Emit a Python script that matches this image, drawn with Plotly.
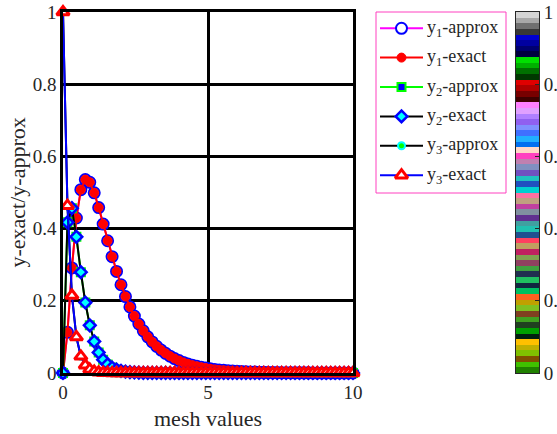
import plotly.graph_objects as go

W, H = 557, 434

# ---------------- data ----------------
mesh = [0.0, 0.1538, 0.3077, 0.4615, 0.6154, 0.7692, 0.9231, 1.0769, 1.2308, 1.3846,
        1.5385, 1.6923, 1.8462, 2.0, 2.1538, 2.3077, 2.4615, 2.6154, 2.7692, 2.9231,
        3.0769, 3.2308, 3.3846, 3.5385, 3.6923, 3.8462, 4.0, 4.1538, 4.3077, 4.4615,
        4.6154, 4.7692, 4.9231, 5.0769, 5.2308, 5.3846, 5.5385, 5.6923, 5.8462, 6.0,
        6.1538, 6.3077, 6.4615, 6.6154, 6.7692, 6.9231, 7.0769, 7.2308, 7.3846, 7.5385,
        7.6923, 7.8462, 8.0, 8.1538, 8.3077, 8.4615, 8.6154, 8.7692, 8.9231, 9.0769,
        9.2308, 9.3846, 9.5385, 9.6923, 9.8462, 10.0]

y1_exact = [0, 0.1128, 0.2911, 0.4293, 0.5078, 0.5358, 0.5283, 0.4991, 0.4582, 0.4125,
            0.3663, 0.3222, 0.2814, 0.2445, 0.2118, 0.1829, 0.1576, 0.1357, 0.1167, 0.1002,
            0.0861, 0.0739, 0.0634, 0.0544, 0.0467, 0.0400, 0.0343, 0.0294, 0.0252, 0.0216,
            0.0186, 0.0159, 0.0136, 0.0117, 0.0100, 0.0086, 0.0074, 0.0063, 0.0054, 0.0046,
            0.0040, 0.0034, 0.0029, 0.0025, 0.0022, 0.0018, 0.0016, 0.0014, 0.0012, 0.0010,
            0.0009, 0.0007, 0.0006, 0.0005, 0.0005, 0.0004, 0.0003, 0.0003, 0.0002, 0.0002,
            0.0002, 0.0002, 0.0001, 0.0001, 0.0001, 0.0001]
y2_exact = [0, 0.4174, 0.4565, 0.3773, 0.2794, 0.1953, 0.1320, 0.0874, 0.0570, 0.0368,
            0.0236, 0.0151, 0.0096, 0.0061, 0.0039, 0.0024, 0.0016, 0.0010, 0.0006, 0.0004,
            0.0002, 0.0002, 0.0001, 0.0001, 0, 0, 0, 0, 0, 0,
            0, 0, 0, 0, 0, 0, 0, 0, 0, 0,
            0, 0, 0, 0, 0, 0, 0, 0, 0, 0,
            0, 0, 0, 0, 0, 0, 0, 0, 0, 0,
            0, 0, 0, 0, 0, 0]
y3_exact = [1, 0.4634, 0.2147, 0.0995, 0.0461, 0.0214, 0.0099, 0.0046, 0.0021, 0.0010,
            0.0005, 0.0002, 0.0001, 0, 0, 0, 0, 0, 0, 0,
            0, 0, 0, 0, 0, 0, 0, 0, 0, 0,
            0, 0, 0, 0, 0, 0, 0, 0, 0, 0,
            0, 0, 0, 0, 0, 0, 0, 0, 0, 0,
            0, 0, 0, 0, 0, 0, 0, 0, 0, 0,
            0, 0, 0, 0, 0, 0]
# approximations coincide with the exact values at this scale
y1_approx = list(y1_exact)
y2_approx = list(y2_exact)
y3_approx = list(y3_exact)

series_names = ["y<sub>1</sub>-approx", "y<sub>1</sub>-exact", "y<sub>2</sub>-approx",
                "y<sub>2</sub>-exact", "y<sub>3</sub>-approx", "y<sub>3</sub>-exact"]
series_values = [y1_approx, y1_exact, y2_approx, y2_exact, y3_approx, y3_exact]

x_ticks = [0, 5, 10]
y_ticks = [0, 0.2, 0.4, 0.6, 0.8, 1]
y_ticktext = ["0", "0.2", "0.4", "0.6", "0.8", "1"]

# colormap shown in the colour bar, from value 1 (top) down to 0 (bottom)
cmap_top_to_bottom = [
    "#d4d4d4", "#a8a8a8", "#707070", "#383838",
    "#0000d0", "#0000a0", "#000070", "#000040",
    "#00e000", "#00b000", "#007000", "#003800",
    "#e00000", "#b00000", "#780000", "#400000",
    "#ff80ff", "#e0a0ff", "#b080ff", "#9060f0",
    "#8090ff", "#4070ff", "#20b0ff", "#0070f0",
    "#ffd8c8", "#ff40c0", "#c080b0", "#8090c0",
    "#7050c0", "#20c0c0", "#2050c0", "#00d0d0",
    "#ff70a0", "#c0a080", "#c040a0", "#8090a0",
    "#603090", "#40a0a0", "#20c0b0", "#205090",
    "#ff4060", "#c0a060", "#c02060", "#80a050",
    "#904060", "#40a040", "#203050", "#20c060",
    "#102840", "#00c060", "#ff6020", "#c0a000",
    "#80c020", "#804020", "#40a020", "#204020",
    "#00a000", "#002010", "#ffc000", "#c0b000",
    "#80c000", "#805000", "#40c000", "#208000",
]

# ---------------- styles ----------------
styles = [
    dict(line=dict(color="#ff00ff", width=2),
         marker=dict(symbol="circle", size=11, color="white", line=dict(color="#0000ff", width=2))),
    dict(line=dict(color="#ff0000", width=2),
         marker=dict(symbol="circle", size=9, color="#ff0000", line=dict(color="#ff0000", width=1))),
    dict(line=dict(color="#00ff00", width=2),
         marker=dict(symbol="square", size=8, color="#0000ff", line=dict(color="#00ff00", width=2))),
    dict(line=dict(color="#000000", width=2),
         marker=dict(symbol="diamond", size=9, color="#00ffff", line=dict(color="#0000ff", width=2.5))),
    dict(line=dict(color="#000000", width=2),
         marker=dict(symbol="circle", size=7, color="#00ff00", line=dict(color="#00ffff", width=2))),
    dict(line=dict(color="#0000ff", width=2),
         marker=dict(symbol="triangle-up", size=11, color="white", line=dict(color="#ff0000", width=3))),
]

FONT = "Liberation Serif, serif"
TXT = "#262626"

# pixel geometry
PX_L, PX_R, PX_T, PX_B = 63, 353, 12, 373

def px(x):
    return x / W

def py(y):
    return 1 - y / H

fig = go.Figure()

for name, vals, st in zip(series_names, series_values, styles):
    fig.add_trace(go.Scatter(x=mesh, y=vals, mode="lines+markers", name=name,
                             line=st["line"], marker=st["marker"], cliponaxis=False,
                             showlegend=False, xaxis="x", yaxis="y"))

# ---------- manual legend (axis x2/y2 in pixel units) ----------
LEG_L, LEG_R, LEG_T, LEG_B = 376, 506, 12, 193
row_y = [28.3, 57.6, 87.0, 116.4, 145.8, 175.2]
for name, st, cy in zip(series_names, styles, row_y):
    fig.add_trace(go.Scatter(x=[380, 423], y=[cy, cy], mode="lines", line=st["line"],
                             showlegend=False, xaxis="x2", yaxis="y2", hoverinfo="skip"))
    mk = dict(st["marker"])
    fig.add_trace(go.Scatter(x=[401.5], y=[cy], mode="markers", marker=mk,
                             showlegend=False, xaxis="x2", yaxis="y2", hoverinfo="skip",
                             cliponaxis=False))
    fig.add_annotation(x=425, y=cy, xref="x2", yref="y2", text=name, showarrow=False,
                       xanchor="left", yanchor="middle",
                       font=dict(family=FONT, size=18, color=TXT))

fig.add_shape(type="rect", xref="paper", yref="paper",
              x0=px(LEG_L), x1=px(LEG_R), y0=py(LEG_B), y1=py(LEG_T),
              line=dict(color="#ff40c0", width=1), fillcolor="rgba(0,0,0,0)")

# ---------- colour bar ----------
n_c = len(cmap_top_to_bottom)
cmap = cmap_top_to_bottom[::-1]
cscale = []
for k, c in enumerate(cmap):
    cscale.append([k / n_c, c])
    cscale.append([(k + 1) / n_c, c])
cb_y = [(k + 0.5) / n_c for k in range(n_c)]
cb_z = [[(k + 0.5) / n_c] for k in range(n_c)]
fig.add_trace(go.Heatmap(x=[0.5], y=cb_y, z=cb_z, colorscale=cscale, zmin=0, zmax=1,
                         showscale=False, xaxis="x3", yaxis="y3", hoverinfo="skip"))

# ---------- layout ----------
axis_common = dict(showgrid=True, gridcolor="black", gridwidth=2.5, zeroline=False,
                   showline=True, linecolor="black", linewidth=2.5, mirror=True,
                   ticks="", automargin=False,
                   tickfont=dict(family=FONT, size=19, color=TXT))

fig.update_layout(
    width=W, height=H, margin=dict(l=0, r=0, t=0, b=0, autoexpand=False),
    paper_bgcolor="white", plot_bgcolor="white", showlegend=False,
    font=dict(family=FONT, color=TXT),
    xaxis=dict(domain=[px(PX_L), px(PX_R)], range=[0, 10], tickvals=x_ticks,
               ticktext=[str(v) for v in x_ticks], anchor="y", **axis_common),
    yaxis=dict(domain=[py(PX_B), py(PX_T)], range=[0, 1], tickvals=y_ticks,
               ticktext=y_ticktext, anchor="x", **axis_common),
    xaxis2=dict(domain=[px(LEG_L), px(LEG_R)], range=[LEG_L, LEG_R], visible=False,
                anchor="y2", fixedrange=True, automargin=False),
    yaxis2=dict(domain=[py(LEG_B), py(LEG_T)], range=[LEG_B, LEG_T], visible=False,
                anchor="x2", fixedrange=True, automargin=False),
    xaxis3=dict(domain=[px(516), px(539)], range=[0, 1], showgrid=False, zeroline=False,
                showticklabels=False, ticks="", showline=True, linecolor=TXT, linewidth=1,
                mirror=True, anchor="y3", automargin=False),
    yaxis3=dict(domain=[py(PX_B), py(PX_T)], range=[0, 1], side="right", anchor="x3",
                showgrid=False, zeroline=False, showline=True, linecolor=TXT, linewidth=1,
                mirror=True, ticks="inside", ticklen=4, tickcolor=TXT, automargin=False,
                tickvals=y_ticks, ticktext=y_ticktext,
                tickfont=dict(family=FONT, size=19, color=TXT)),
)

fig.add_annotation(x=px((PX_L + PX_R) / 2), y=py(418), xref="paper", yref="paper",
                   text="mesh values", showarrow=False, xanchor="center", yanchor="middle",
                   font=dict(family=FONT, size=22, color=TXT))
fig.add_annotation(x=px(17), y=py((PX_T + PX_B) / 2), xref="paper", yref="paper",
                   text="y-exact/y-approx", showarrow=False, textangle=-90,
                   xanchor="center", yanchor="middle",
                   font=dict(family=FONT, size=22, color=TXT))

fig.write_html("out.html")
